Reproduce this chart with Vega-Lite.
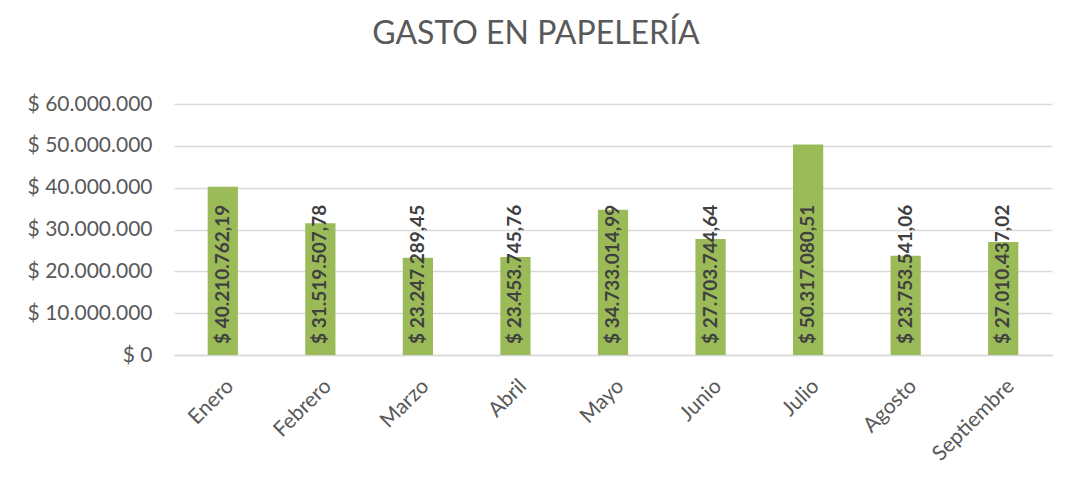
{
  "$schema": "https://vega.github.io/schema/vega-lite/v6.json",
  "autosize": {"type": "none"},
  "width": 878,
  "height": 251,
  "padding": {"left": 174, "top": 104, "right": 16, "bottom": 132},
  "background": "white",
  "title": {
    "text": "GASTO EN PAPELERÍA",
    "font": "Lato",
    "fontSize": 32,
    "fontWeight": "normal",
    "color": "#595959",
    "anchor": "middle",
    "dx": -77,
    "offset": 42
  },
  "config": {
    "locale": {
      "number": {"decimal": ",", "thousands": ".", "grouping": [3], "currency": ["$ ", ""]}
    },
    "view": {"stroke": null},
    "font": "Lato"
  },
  "data": {
    "values": [
      {"mes": "Enero", "gasto": 40210762.19},
      {"mes": "Febrero", "gasto": 31519507.78},
      {"mes": "Marzo", "gasto": 23247289.45},
      {"mes": "Abril", "gasto": 23453745.76},
      {"mes": "Mayo", "gasto": 34733014.99},
      {"mes": "Junio", "gasto": 27703744.64},
      {"mes": "Julio", "gasto": 50317080.51},
      {"mes": "Agosto", "gasto": 23753541.06},
      {"mes": "Septiembre", "gasto": 27010437.02}
    ]
  },
  "encoding": {
    "x": {
      "field": "mes",
      "type": "nominal",
      "sort": null,
      "scale": {"paddingInner": 0.69, "paddingOuter": 0.345},
      "axis": {
        "title": null,
        "labelAngle": -45,
        "labelFont": "Lato",
        "labelFontSize": 21,
        "labelColor": "#595959",
        "ticks": false,
        "labelPadding": 20,
        "domainColor": "#D9D9D9",
        "domainWidth": 1.5,
        "grid": false
      }
    }
  },
  "layer": [
    {
      "mark": {"type": "bar", "color": "#9BBB59"},
      "encoding": {
        "y": {
          "field": "gasto",
          "type": "quantitative",
          "scale": {"domain": [0, 60000000]},
          "axis": {
            "title": null,
            "values": [0, 10000000, 20000000, 30000000, 40000000, 50000000, 60000000],
            "format": "$,.0f",
            "labelFont": "Lato",
            "labelFontSize": 21,
            "labelColor": "#595959",
            "ticks": false,
            "domain": false,
            "labelPadding": 22,
            "gridColor": "#D9D9D9",
            "gridWidth": 1.5
          }
        }
      }
    },
    {
      "mark": {
        "type": "text",
        "angle": 270,
        "align": "left",
        "baseline": "middle",
        "dx": 11,
        "font": "Lato",
        "fontSize": 19,
        "fontWeight": "bold",
        "color": "#404040"
      },
      "encoding": {
        "y": {"datum": 0, "type": "quantitative"},
        "text": {"field": "gasto", "type": "quantitative", "format": "$,.2f"}
      }
    }
  ]
}
